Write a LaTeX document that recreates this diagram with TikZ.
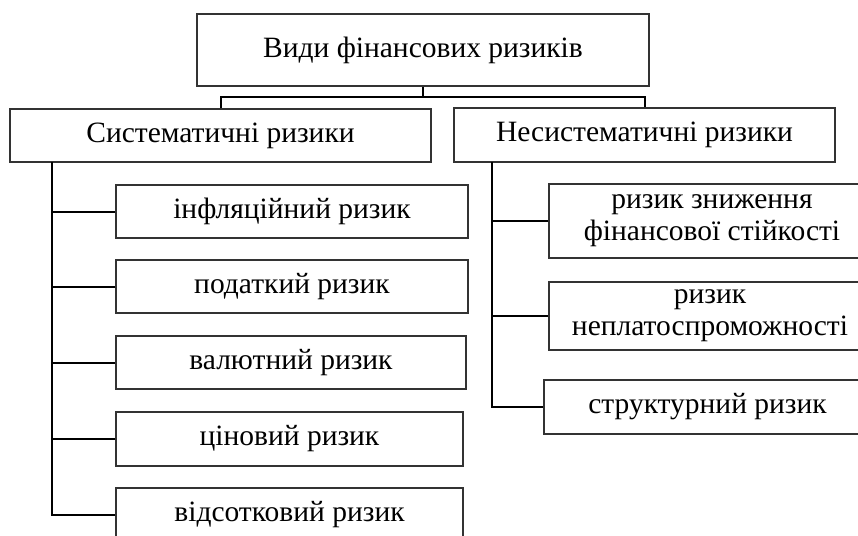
\documentclass[tikz,border=0pt]{standalone}
\usepackage{fontspec}
\setmainfont{Liberation Serif}
\begin{document}
\begin{tikzpicture}[x=1pt,y=-1pt,
  box/.style={draw=black!80,line width=1.2pt,rectangle,inner sep=0pt,align=center,
    font=\fontsize{29.5}{32}\selectfont},
  conn/.style={line width=2pt,black}]
\clip (0,0) rectangle (858,535);
\fill[white] (0,0) rectangle (858,535);
\node[box,minimum width=452,minimum height=72] (top) at (423,50) {Види фінансових ризиків};
\node[box,minimum width=421,minimum height=53] (sys) at (220.5,135.5) {Систематичні ризики};
\node[box,minimum width=381,minimum height=54] (nsys) at (644.5,135) {Несистематичні ризики};
% left children
\node[box,minimum width=352,minimum height=53] (c1) at (292,211.5) {інфляційний ризик};
\node[box,minimum width=352,minimum height=53] (c2) at (292,286.5) {податкий ризик};
\node[box,minimum width=350,minimum height=53] (c3) at (291,362.5) {валютний ризик};
\node[box,minimum width=347,minimum height=54] (c4) at (289.5,439) {ціновий ризик};
\node[box,minimum width=347,minimum height=53] (c5) at (289.5,514.5) {відсотковий ризик};
% right children
\node[box,minimum width=326,minimum height=74] (r1) at (712,221) {ризик зниження\\фінансової стійкості};
\node[box,minimum width=322,minimum height=68] (r2) at (710,316) {ризик\\неплатоспроможності};
\node[box,minimum width=327,minimum height=54] (r3) at (707.5,407) {структурний ризик};
% connectors
\coordinate (j) at (423,97);
\draw[conn] (top.south) -- (j);
\draw[conn] (sys.north) |- (j) -| (nsys.north);
\coordinate (ls) at (52,162);
\draw[conn] (ls) |- (c5.west);
\foreach \n in {c1,c2,c3,c4} \draw[conn] (\n.west) -- (\n.west -| ls);
\coordinate (rs) at (492,162);
\draw[conn] (rs) |- (r3.west);
\foreach \n in {r1,r2} \draw[conn] (\n.west) -- (\n.west -| rs);
\end{tikzpicture}
\end{document}
